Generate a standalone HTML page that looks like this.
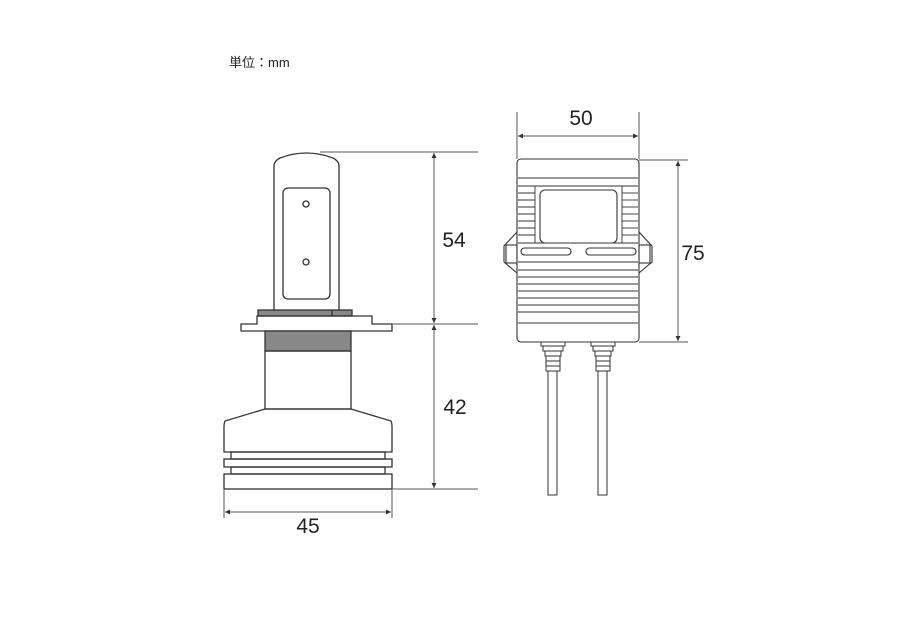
<!DOCTYPE html>
<html><head><meta charset="utf-8"><style>body{margin:0;background:#fff}svg{display:block}</style></head><body>
<svg width="900" height="623" viewBox="0 0 900 623" xmlns="http://www.w3.org/2000/svg">
<defs><marker id="a" markerWidth="6" markerHeight="6" refX="5" refY="3" orient="auto-start-reverse"><path d="M0,0.5 L5,3 L0,5.5 z" fill="#333"/></marker></defs>
<text x="229" y="67" font-family="Liberation Sans, Noto Sans CJK JP, sans-serif" font-size="13" fill="#222">単位：mm</text>
<g fill="none" stroke="#333" stroke-width="1.3">
<path d="M274,310 V166 Q274,161 280,158 Q306,148 333,158 Q339,161 339,166 V310" fill="#fff"/>
<rect x="283" y="188" width="47" height="111" rx="5"/>
<circle cx="306" cy="204" r="3"/><circle cx="306" cy="262" r="3"/>
<rect x="258" y="310" width="94" height="6" fill="#888"/><line x1="332" y1="310" x2="332" y2="316"/>
<path d="M257,316 H372 V324 H392 V331 H241 V324 H257 Z"/>
<rect x="265" y="331" width="86" height="20" fill="#888"/>
<rect x="265" y="351" width="86" height="58"/>
<path d="M265,409 L225,421 Q224,423 224,426 V452 H392 V426 Q392,423 391,421 L351,409 Z"/>
<rect x="231" y="452" width="154" height="7"/>
<rect x="224" y="459" width="168" height="8"/>
<rect x="231" y="467" width="154" height="7"/>
<rect x="224" y="474" width="168" height="15"/>
</g>
<g stroke="#555" stroke-width="1" fill="none">
<line x1="320" y1="152" x2="478" y2="152"/>
<line x1="392" y1="324" x2="478" y2="324"/>
<line x1="392" y1="489" x2="478" y2="489"/>
<line x1="434" y1="153" x2="434" y2="323" marker-start="url(#a)" marker-end="url(#a)"/>
<line x1="434" y1="325" x2="434" y2="488" marker-start="url(#a)" marker-end="url(#a)"/>
<line x1="224" y1="490" x2="224" y2="518"/><line x1="392" y1="490" x2="392" y2="518"/>
<line x1="225" y1="512" x2="391" y2="512" marker-start="url(#a)" marker-end="url(#a)"/>
<line x1="517" y1="112" x2="517" y2="159"/><line x1="639" y1="112" x2="639" y2="159"/>
<line x1="518" y1="136" x2="638" y2="136" marker-start="url(#a)" marker-end="url(#a)"/>
<line x1="639" y1="160" x2="688" y2="160"/><line x1="639" y1="342" x2="688" y2="342"/>
<line x1="678" y1="161" x2="678" y2="341" marker-start="url(#a)" marker-end="url(#a)"/>
</g>
<g font-family="Liberation Sans, sans-serif" font-size="21" fill="#222" text-anchor="middle">
<text x="454" y="247">54</text><text x="455" y="414">42</text><text x="308" y="533">45</text>
<text x="581" y="125">50</text><text x="693" y="260">75</text>
</g>
<g fill="none" stroke="#333" stroke-width="1.1">
<path d="M517,232 L504,246 V262 L517,273"/><rect x="506" y="245" width="11" height="18"/>
<path d="M639,232 L652,246 V262 L639,273"/><rect x="639" y="245" width="11" height="18"/>
<rect x="517" y="159" width="122" height="183" rx="4" fill="#fff"/>
<line x1="518" y1="178" x2="638" y2="178"/>
<line x1="518" y1="323" x2="638" y2="323"/>
<g stroke-width="0.9">
<line x1="518" y1="186" x2="638" y2="186"/>
<line x1="518" y1="193" x2="535" y2="193"/><line x1="622" y1="193" x2="638" y2="193"/>
<line x1="518" y1="200" x2="535" y2="200"/><line x1="622" y1="200" x2="638" y2="200"/>
<line x1="518" y1="207" x2="535" y2="207"/><line x1="622" y1="207" x2="638" y2="207"/>
<line x1="518" y1="214" x2="535" y2="214"/><line x1="622" y1="214" x2="638" y2="214"/>
<line x1="518" y1="221" x2="535" y2="221"/><line x1="622" y1="221" x2="638" y2="221"/>
<line x1="518" y1="228" x2="535" y2="228"/><line x1="622" y1="228" x2="638" y2="228"/>
<line x1="518" y1="235" x2="535" y2="235"/><line x1="622" y1="235" x2="638" y2="235"/>
<line x1="518" y1="243" x2="638" y2="243"/>
<line x1="535" y1="186" x2="535" y2="243"/><line x1="622" y1="186" x2="622" y2="243"/>
<line x1="518" y1="262" x2="638" y2="262"/>
<line x1="518" y1="270" x2="638" y2="270"/>
<line x1="518" y1="277" x2="638" y2="277"/>
<line x1="518" y1="284" x2="638" y2="284"/>
<line x1="518" y1="291" x2="638" y2="291"/>
<line x1="518" y1="298" x2="638" y2="298"/>
<line x1="518" y1="305" x2="638" y2="305"/>
<line x1="518" y1="312" x2="638" y2="312"/>
</g>
<rect x="540" y="190" width="77" height="53" rx="5" fill="#fff"/>
<rect x="521" y="248" width="50" height="7" rx="3.5"/>
<rect x="586" y="248" width="50" height="7" rx="3.5"/>
<g stroke-width="1">
<rect x="541" y="342" width="24" height="4"/><rect x="543" y="346" width="20" height="5"/><rect x="545" y="351" width="16" height="5"/><rect x="546" y="356" width="14" height="5"/><rect x="546" y="361" width="14" height="5"/><rect x="546" y="366" width="14" height="5"/>
<rect x="548" y="371" width="9" height="124"/>
<rect x="591" y="342" width="24" height="4"/><rect x="593" y="346" width="20" height="5"/><rect x="595" y="351" width="16" height="5"/><rect x="596" y="356" width="14" height="5"/><rect x="596" y="361" width="14" height="5"/><rect x="596" y="366" width="14" height="5"/>
<rect x="598" y="371" width="9" height="124"/>
</g>
</g>
</svg>
</body></html>
